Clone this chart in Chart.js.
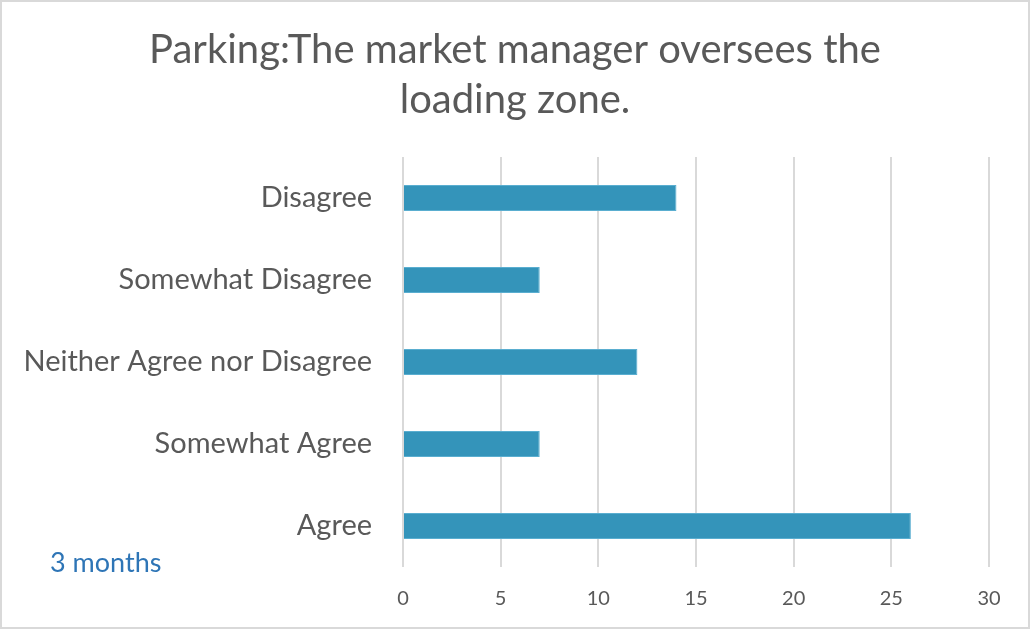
<!DOCTYPE html>
<html>
<head>
<meta charset="utf-8">
<script src="https://cdn.jsdelivr.net/npm/chart.js@4"></script>
<style>
	html, body { margin: 0; padding: 0; background: #fff; }
	#wrap { width: 1030px; height: 629px; position: relative; }
</style>
</head>
<body>
<div id="wrap"><canvas id="chart" width="1030" height="629"></canvas></div>
<script>
'use strict';

// chart data
const
	categories = ['Disagree', 'Somewhat Disagree', 'Neither Agree nor Disagree', 'Somewhat Agree', 'Agree'],
	counts = [14, 7, 12, 7, 26],
	seriesName = '3 months',
	titleLines = ['Parking:The market manager oversees the', 'loading zone.'],
	xMin = 0,
	xMax = 30,
	xStep = 5;

const
	FONT = 'Lato, "Open Sans", sans-serif',
	GREY = '#595959';

/**
 * Draws the outer frame and the series label in the bottom left corner
 */
const framePlugin = {
	id: 'frame',
	afterDraw(chart) {
		const {ctx} = chart;
		ctx.save();
		ctx.strokeStyle = '#d9d9d9';
		ctx.lineWidth = 2;
		ctx.strokeRect(1, 1, chart.width - 2, chart.height - 2);

		ctx.fillStyle = '#2e75b6';
		ctx.font = `27px ${FONT}`;
		ctx.textBaseline = 'middle';
		ctx.textAlign = 'left';
		ctx.fillText(chart.data.datasets[0].label, 50, 563);
		ctx.restore();
	}
};

new Chart(document.getElementById('chart'), {
	type: 'bar',
	data: {
		labels: categories,
		datasets: [{
			label: seriesName,
			data: counts,
			backgroundColor: '#3494ba',
			borderColor: '#5aaed0',
			borderWidth: 1,
			barPercentage: 0.32,
			categoryPercentage: 1
		}]
	},
	plugins: [framePlugin],
	options: {
		indexAxis: 'y',
		responsive: false,
		animation: false,
		layout: {padding: 0},
		plugins: {
			legend: {display: false},
			tooltip: {enabled: false},
			title: {
				display: true,
				text: titleLines,
				color: GREY,
				font: {family: FONT, size: 40, weight: 'normal', lineHeight: 1.25},
				padding: {top: 25, bottom: 32}
			}
		},
		scales: {
			x: {
				min: xMin,
				max: xMax,
				ticks: {
					stepSize: xStep,
					color: GREY,
					padding: 20,
					font: {family: FONT, size: 20}
				},
				grid: {color: '#d9d9d9', lineWidth: 2, drawTicks: false},
				border: {display: false},
				afterFit(scale) {
					scale.height = 62;
					// room on the right so the title stays centred on the canvas
					scale.paddingRight = 41;
				}
			},
			y: {
				ticks: {
					color: GREY,
					padding: 31,
					font: {family: FONT, size: 29}
				},
				grid: {display: false, drawTicks: false},
				border: {display: false},
				afterFit(scale) { scale.width = 403; }
			}
		}
	}
});
</script>
</body>
</html>
